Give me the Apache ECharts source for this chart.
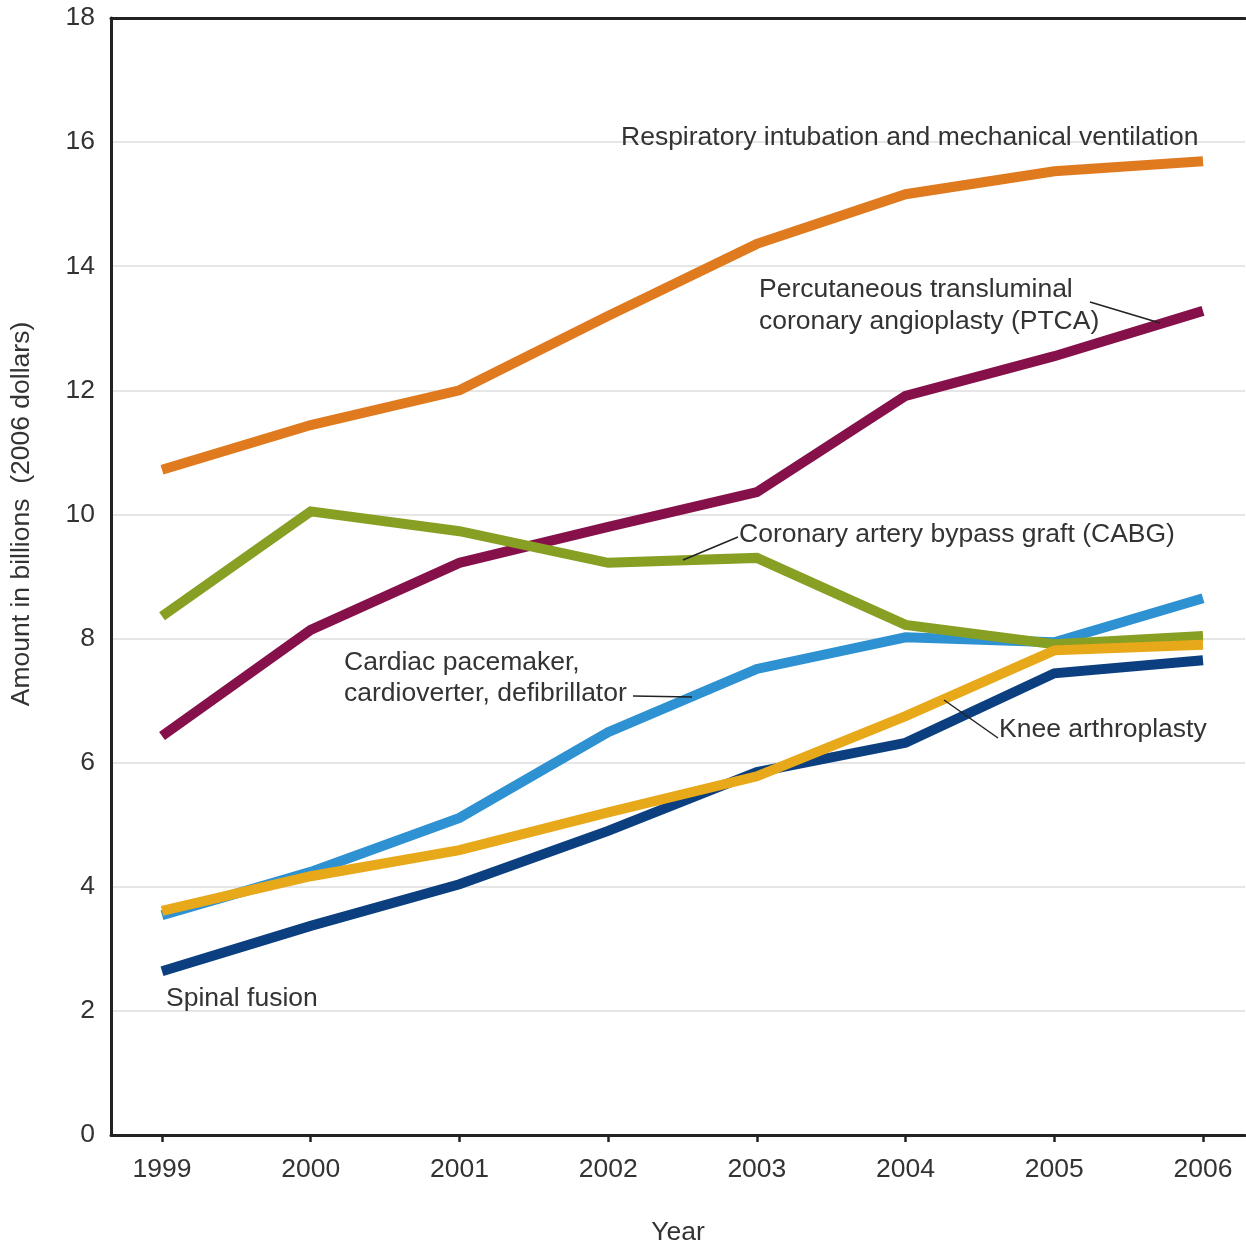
<!DOCTYPE html>
<html>
<head>
<meta charset="utf-8">
<script src="https://cdn.jsdelivr.net/npm/echarts@6/dist/echarts.min.js"></script>
<style>
html,body{margin:0;padding:0;background:#fff;overflow:hidden;}
#main{width:1246px;height:1245px;}
</style>
</head>
<body>
<div id="main"></div>
<script>
const years = [1999, 2000, 2001, 2002, 2003, 2004, 2005, 2006];
const yTicks = [0, 2, 4, 6, 8, 10, 12, 14, 16, 18];
const respiratory = [10.72, 11.44, 12.0, 13.2, 14.36, 15.16, 15.53, 15.69];
const ptca = [6.43, 8.14, 9.22, 9.80, 10.36, 11.91, 12.55, 13.28];
const cabg = [8.36, 10.05, 9.73, 9.22, 9.30, 8.22, 7.91, 8.04];
const pacemaker = [3.54, 4.24, 5.11, 6.49, 7.51, 8.02, 7.94, 8.65];
const knee = [3.61, 4.17, 4.59, 5.20, 5.78, 6.75, 7.81, 7.90];
const spinal = [2.64, 3.37, 4.04, 4.90, 5.85, 6.32, 7.44, 7.65];

const FONT = '"Liberation Sans", Arial, Helvetica, sans-serif';
const TXT = '#333333';
const FS = 26.5;

function pairs(vals){ return years.map((y,i)=>[y, vals[i]]); }
function lineSeries(name, vals, color){
  return {
    name, type:'line', data: pairs(vals), symbol:'none',
    lineStyle:{width:10, color, cap:'butt', join:'miter'},
    itemStyle:{color}, silent:true, animation:false
  };
}

const chart = echarts.init(document.getElementById('main'), null, {renderer:'canvas', width:1246, height:1245});
const xMin = 1999 - 51/148.714;
const xMax = xMin + 1134/148.714;

function txt(x, y, text, extra){
  return Object.assign({type:'text', x, y, style:{text, font:FS+'px '+FONT, fill:TXT, textAlign:'left', textVerticalAlign:'middle'}, z:100}, extra||{});
}
function seg(x1,y1,x2,y2){
  return {type:'line', shape:{x1,y1,x2,y2}, style:{stroke:'#222', lineWidth:1.5}, z:100};
}

chart.setOption({
  animation:false,
  backgroundColor:'#fff',
  grid:{left:111, top:18, right:1, bottom:110, containLabel:false, outerBoundsMode:'none'},
  xAxis:[{
    type:'value', min:xMin, max:xMax,
    name:'Year', nameLocation:'middle', nameGap:84,
    nameTextStyle:{fontSize:FS, color:TXT, fontFamily:FONT},
    axisLine:{show:true, onZero:false, lineStyle:{color:'#222', width:3}},
    axisTick:{show:true, length:7, lineStyle:{color:'#222', width:2.5}, customValues: years},
    axisLabel:{fontSize:FS, color:TXT, fontFamily:FONT, margin:21, customValues: years, formatter: v=>String(v)},
    splitLine:{show:false}
  },{
    type:'value', position:'top', min:xMin, max:xMax,
    axisLine:{show:true, onZero:false, lineStyle:{color:'#222', width:3}},
    axisTick:{show:false}, axisLabel:{show:false}, splitLine:{show:false}
  }],
  yAxis:{
    type:'value', min:yTicks[0], max:yTicks[yTicks.length-1], interval:2,
    axisLine:{show:true, lineStyle:{color:'#222', width:3}},
    axisTick:{show:false},
    axisLabel:{fontSize:FS, color:TXT, fontFamily:FONT, margin:16},
    splitLine:{show:true, lineStyle:{color:'#dedede', width:1.5}}
  },
  series:[
    lineSeries('Spinal fusion', spinal, '#0B3F80'),
    lineSeries('Cardiac pacemaker, cardioverter, defibrillator', pacemaker, '#2E92D2'),
    lineSeries('PTCA', ptca, '#86114A'),
    lineSeries('CABG', cabg, '#87A024'),
    lineSeries('Knee arthroplasty', knee, '#E7A919'),
    lineSeries('Respiratory intubation and mechanical ventilation', respiratory, '#E07A1F')
  ],
  graphic:[
    {type:'text', x:22, y:514, rotation:Math.PI/2,
     style:{text:'Amount in billions  (2006 dollars)', font:FS+'px '+FONT, fill:TXT, textAlign:'center', textVerticalAlign:'middle'}},
    txt(621, 138, 'Respiratory intubation and mechanical ventilation'),
    txt(759, 290, 'Percutaneous transluminal'),
    txt(759, 322, 'coronary angioplasty (PTCA)'),
    seg(1090, 302, 1160, 323),
    txt(739, 535, 'Coronary artery bypass graft (CABG)'),
    seg(738, 537, 683, 560),
    txt(344, 663, 'Cardiac pacemaker,'),
    txt(344, 694, 'cardioverter, defibrillator'),
    seg(633, 696, 692, 697),
    txt(999, 730, 'Knee arthroplasty'),
    seg(944, 700, 998, 738),
    txt(166, 999, 'Spinal fusion')
  ]
});
</script>
</body>
</html>
